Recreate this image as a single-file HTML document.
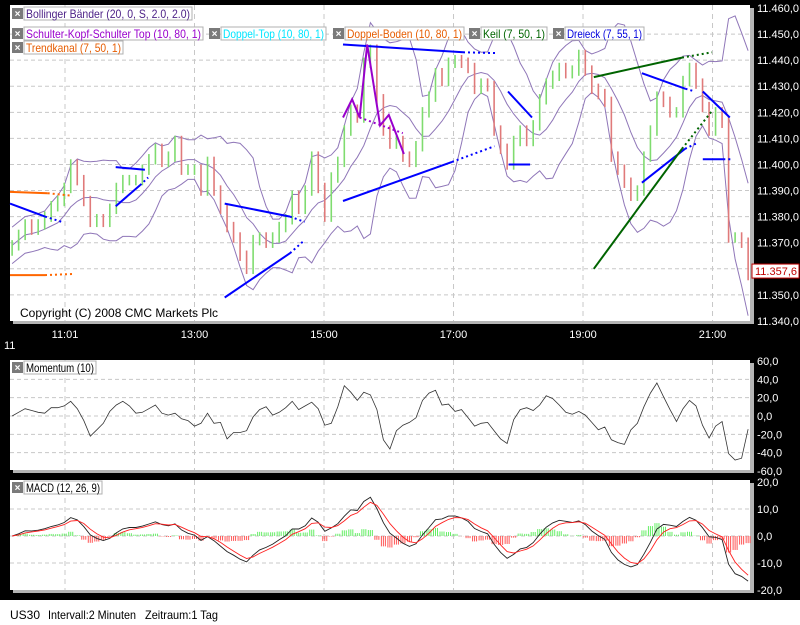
<!DOCTYPE html>
<html><head><meta charset="utf-8"><style>
html,body{margin:0;padding:0;background:#000;}
svg{display:block;font-family:"Liberation Sans",sans-serif;}
</style></head><body>
<svg id="c" width="800" height="625" viewBox="0 0 800 625" xmlns="http://www.w3.org/2000/svg">
<rect x="0" y="0" width="800" height="625" fill="#000"/>
<rect x="0" y="600" width="800" height="25" fill="#fff"/>
<text x="10" y="619" font-size="12" fill="#000">US30</text>
<text x="48" y="619" font-size="12" fill="#000" textLength="88" lengthAdjust="spacingAndGlyphs">Intervall:2 Minuten</text>
<text x="145" y="619" font-size="12" fill="#000" textLength="73" lengthAdjust="spacingAndGlyphs">Zeitraum:1 Tag</text>
<text x="4" y="349" font-size="11" fill="#fff">11</text>
<rect x="13" y="8" width="741" height="316" fill="#b4b4b4"/>
<rect x="10" y="5" width="740" height="316" fill="#fff"/>
<rect x="13" y="363" width="741" height="110" fill="#b4b4b4"/>
<rect x="10" y="360" width="740" height="110" fill="#fff"/>
<rect x="13" y="483" width="741" height="110" fill="#b4b4b4"/>
<rect x="10" y="480" width="740" height="110" fill="#fff"/>
<g id="grid"></g>
<g id="marks"></g>
<g id="legend"></g>
<text x="20" y="317" font-size="12" fill="#000">Copyright (C) 2008 CMC Markets Plc</text>
</svg>
<script>
// ---- data ----
const closes = [11369,11373,11377,11375,11377,11380,11384,11386,11391,11400,11394,11386,11378,11379,11378,11383,11391,11394,11394,11394,11398,11402,11406,11401,11403,11409,11398,11398,11398,11390,11401,11390,11383,11376,11372,11365,11360,11371,11372,11370,11372,11376,11379,11388,11383,11390,11403,11391,11380,11395,11401,11413,11421,11418,11439,11444,11425,11413,11408,11409,11403,11401,11407,11420,11426,11435,11432,11439,11440,11439,11437,11429,11431,11430,11413,11406,11400,11409,11413,11409,11415,11425,11431,11434,11437,11435,11436,11442,11436,11429,11427,11424,11403,11398,11393,11388,11390,11403,11413,11426,11424,11420,11420,11432,11437,11431,11422,11413,11420,11416,11372,11372,11370,11357.6];
const startMinute = 611;
const endMinute = 1293;
const priceTicks = [11460,11450,11440,11430,11420,11410,11400,11390,11380,11370,11360,11350,11340];
const momTicks = [60,40,20,0,-20,-40,-60];
const macdTicks = [20,10,0,-10,-20];
const timeTickMinutes = [660,780,900,1020,1140,1260];
const timeTickLabels = ["11:01","13:00","15:00","17:00","19:00","21:00"];
const overlayLines = [
 {c:"#0000ff",s:[[609,11385],[641.5,11380]],d:[[641.5,11380],[657,11378]]},
 {c:"#0000ff",s:[[707,11384],[729.5,11392]],d:[[729.5,11392],[737,11395]]},
 {c:"#0000ff",s:[[707,11399],[734,11398]],d:[]},
 {c:"#0000ff",s:[[808,11385],[868.5,11380]],d:[[868.5,11380],[882,11378]]},
 {c:"#0000ff",s:[[808,11349],[868.5,11366]],d:[[868.5,11366],[882,11371]]},
 {c:"#0000ff",s:[[917.6,11386],[1018.6,11401]],d:[[1018.6,11401],[1058,11407]]},
 {c:"#0000ff",s:[[917.6,11446],[1028.8,11443]],d:[[1028.8,11443],[1060,11442.7]]},
 {c:"#0000ff",s:[[1070.5,11428],[1092.7,11418]],d:[]},
 {c:"#0000ff",s:[[1071,11400],[1091,11400]],d:[]},
 {c:"#0000ff",s:[[1194.6,11435],[1235,11429]],d:[[1235,11429],[1243.8,11428]]},
 {c:"#0000ff",s:[[1194.6,11393],[1234.5,11406]],d:[[1234.5,11406],[1244.7,11408]]},
 {c:"#0000ff",s:[[1251,11428],[1276,11418]],d:[]},
 {c:"#0000ff",s:[[1251,11402],[1270,11402]],d:[[1270,11402],[1278,11402]]},
 {c:"#006400",s:[[1150,11433.5],[1231.7,11441]],d:[[1231.7,11441],[1259.5,11443]]},
 {c:"#006400",s:[[1150,11360],[1231.7,11406]],d:[[1231.7,11406],[1260.4,11421]]},
 {c:"#ff6600",s:[[609,11389.5],[644,11389]],d:[[644,11389],[667,11388]]},
 {c:"#ff6600",s:[[609,11357.6],[641.5,11357.6]],d:[[641.5,11357.6],[667,11358]]},
 {c:"#9900cc",s:[[917.6,11418],[926,11425],[933,11418],[940,11446],[952,11415],[960,11419],[974,11404]],d:[[933,11418],[973,11412]]}
];
// ---- scales ----
const X0=65, PXMIN=1.0792;
function xT(m){return X0+(m-660)*PXMIN;}
function xI(i){return xT(startMinute+i*(endMinute-startMinute)/(closes.length-1));}
function yP(p){return 8+(11460-p)*2.608;}
function yM(v){return 416-v*0.917;}
function yD(v){return 536-v*2.7;}
const NS="http://www.w3.org/2000/svg";
const grid=document.getElementById('grid'), marks=document.getElementById('marks'), legend=document.getElementById('legend');
function mk(tag,attrs,parent){const e=document.createElementNS(NS,tag);for(const k in attrs)e.setAttribute(k,attrs[k]);parent.appendChild(e);return e;}
function fmt(v){const neg=v<0;let s=Math.abs(v).toFixed(1).replace('.',',');let [a,b]=s.split(',');a=a.replace(/\B(?=(\d{3})+(?!\d))/g,'.');return (neg?'-':'')+a+','+b;}
priceTicks.forEach(p=>{const y=yP(p);
 if(p<11460&&p>11340){const l=mk('line',{x1:10,x2:750,y1:y,y2:y,stroke:'#c8c8c8','stroke-dasharray':'4,3'},grid);}
 const t=mk('text',{x:757,y:y+4,'font-size':11,fill:'#fff'},grid);t.textContent=fmt(p);
 });
momTicks.forEach(v=>{const y=yM(v);
 if(v<60&&v>-60){const l=mk('line',{x1:10,x2:750,y1:y,y2:y,stroke:'#c8c8c8','stroke-dasharray':'4,3'},grid);}
 const t=mk('text',{x:757,y:y+4,'font-size':11,fill:'#fff'},grid);t.textContent=fmt(v);
 });
macdTicks.forEach(v=>{const y=yD(v);
 if(v<20&&v>-20){const l=mk('line',{x1:10,x2:750,y1:y,y2:y,stroke:'#c8c8c8','stroke-dasharray':'4,3'},grid);}
 const t=mk('text',{x:757,y:y+4,'font-size':11,fill:'#fff'},grid);t.textContent=fmt(v);
 });
timeTickMinutes.forEach((m,i)=>{const x=xT(m);
 [[5,321],[360,470],[480,590]].forEach(r=>{const l=mk('line',{x1:x,x2:x,y1:r[0],y2:r[1],stroke:'#c8c8c8','stroke-dasharray':'5,4'},grid);});
 const t=mk('text',{x:x,y:338,'font-size':11,fill:'#fff','text-anchor':'middle'},grid);t.textContent=timeTickLabels[i];
 });
const W=8, up=[], mid=[], lo=[];
closes.forEach((c,i)=>{const s=closes.slice(Math.max(0,i-W+1),i+1);const m=s.reduce((a,b)=>a+b,0)/s.length;
 const sd=Math.sqrt(s.reduce((a,b)=>a+(b-m)*(b-m),0)/s.length);mid.push(m);up.push(m+2*Math.max(sd,3.5));lo.push(m-2*Math.max(sd,3.5));});
function poly(arr,yf,col,name,w){const pts=arr.map((v,i)=>xI(i).toFixed(1)+','+yf(v).toFixed(1)).join(' ');
 const p=mk('polyline',{points:pts,fill:'none',stroke:col,'stroke-width':w||1},marks);return p;}
poly(up,yP,'#8f76b8','bollinger-upper');poly(mid,yP,'#8f76b8','bollinger-middle');poly(lo,yP,'#8f76b8','bollinger-lower');
closes.forEach((c,i)=>{const prev=i?closes[i-1]:c-2;const upb=c>=prev;const x=xI(i);
 const hi=Math.max(c,prev)+2, low=Math.min(c,prev)-2;const col=upb?'#7fdc6f':'#e07a7a';
 const b=mk('line',{x1:x,x2:x,y1:yP(hi),y2:yP(low),stroke:col,'stroke-width':1.6},marks);
 });
overlayLines.forEach(o=>{
 const s=mk('polyline',{points:o.s.map(p=>xT(p[0]).toFixed(1)+','+yP(p[1]).toFixed(1)).join(' '),fill:'none',stroke:o.c,'stroke-width':2},marks);
 
 if(o.d.length){const d=mk('polyline',{points:o.d.map(p=>xT(p[0]).toFixed(1)+','+yP(p[1]).toFixed(1)).join(' '),fill:'none',stroke:o.c,'stroke-width':2,'stroke-dasharray':'2,3'},marks);
 }});
const mom=closes.map((c,i)=>c-closes[Math.max(0,i-3)]);
poly(mom,yM,'#333','momentum-line',0.8);
function ema(a,n){const k=2/(n+1);const r=[];a.forEach((v,i)=>r.push(i?r[i-1]+k*(v-r[i-1]):v));return r;}
const e1=ema(closes,4),e2=ema(closes,9);const macd=e1.map((v,i)=>v-e2[i]);const sig=ema(macd,3);
macd.forEach((v,i)=>{const h=v-sig[i];const x=xI(i);
 for(let dx=-2;dx<=2;dx+=2){const b=mk('line',{x1:x+dx,x2:x+dx,y1:yD(0),y2:yD(h*1.2),stroke:h>=0?'#66ee66':'#ff5555','stroke-width':1},marks);
 }});
poly(macd,yD,'#222','macd-line',0.9);poly(sig,yD,'#ff2020','macd-signal-line',0.9);
const lp=closes[closes.length-1];
const lb=mk('rect',{x:752,y:yP(lp)-11,width:47,height:14,fill:'#fff',stroke:'#c00000'},marks);

const lt=mk('text',{x:755,y:yP(lp),'font-size':11,fill:'#c00000'},marks);lt.textContent=fmt(lp);

const legendItems=[
 ["Bollinger Bänder (20, 0, S, 2.0, 2.0)",12,8,"#4b1f86","bollinger-legend"],
 ["Schulter-Kopf-Schulter Top (10, 80, 1)",12,28,"#9900cc","sks-legend"],
 ["Doppel-Top (10, 80, 1)",209,28,"#00e5ff","doppel-top-legend"],
 ["Doppel-Boden (10, 80, 1)",333,28,"#e65c00","doppel-boden-legend"],
 ["Keil (7, 50, 1)",469,28,"#006400","keil-legend"],
 ["Dreieck (7, 55, 1)",553,28,"#0000dd","dreieck-legend"],
 ["Trendkanal (7, 50, 1)",12,42,"#e65c00","trendkanal-legend"],
 ["Momentum (10)",12,362,"#000","momentum-legend"],
 ["MACD (12, 26, 9)",12,482,"#000","macd-legend"]];
const legendWidths=[182,193,119,133,80,93,113,86,92];
legendItems.forEach((it,k)=>{const [txt,x,y,col,name]=it;
 const g=mk('g',{},legend);
 mk('rect',{x:x,y:y,width:11,height:11,fill:'#7a7a7a'},g);
 const ix=mk('text',{x:x+5.5,y:y+9,'font-size':10,'font-weight':'bold',fill:'#fff','text-anchor':'middle'},g);ix.textContent='×';
 
 const w=legendWidths[k]-14;
 mk('rect',{x:x+12,y:y-1,width:w,height:13,fill:'#fff',stroke:'#b0b0b0'},g);
 const t=mk('text',{x:x+14,y:y+10,'font-size':12,fill:col,textLength:w-4,lengthAdjust:'spacingAndGlyphs'},g);t.textContent=txt;});
</script>
</body></html>
